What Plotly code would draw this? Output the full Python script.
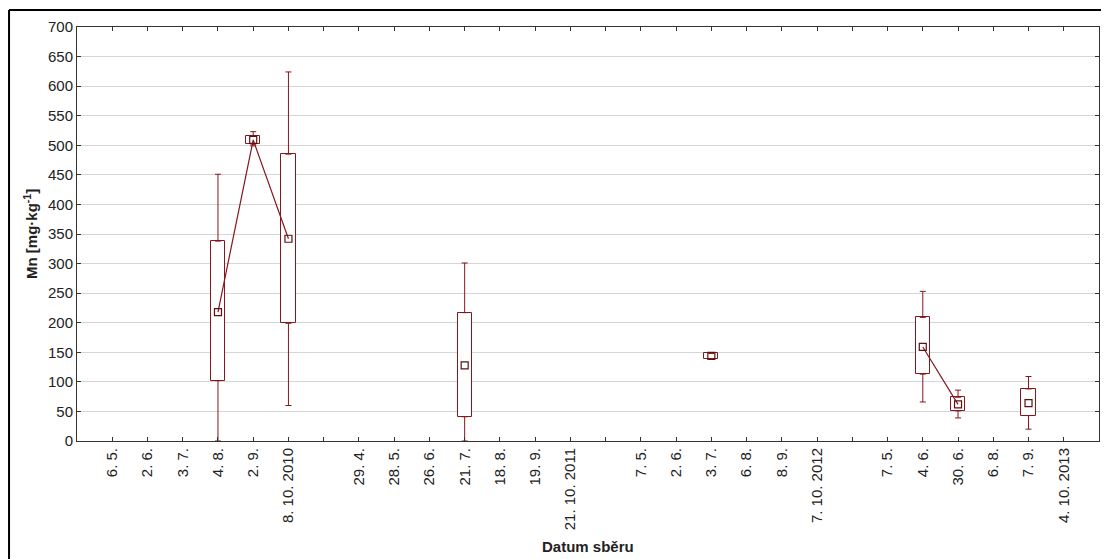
import plotly.graph_objects as go

# ---- data ----
tick_labels = ["6. 5.", "2. 6.", "3. 7.", "4. 8.", "2. 9.", "8. 10. 2010", "",
               "29. 4.", "28. 5.", "26. 6.", "21. 7.", "18. 8.", "19. 9.", "21. 10. 2011", "",
               "7. 5.", "2. 6.", "3. 7.", "6. 8.", "8. 9.", "7. 10. 2012", "",
               "7. 5.", "4. 6.", "30. 6.", "6. 8.", "7. 9.", "4. 10. 2013"]

box_pos = [3, 4, 5, 10, 17, 23, 24, 26]
mins    = [0, 499, 60, 0, 138, 66, 39, 20]
q1s     = [102, 502, 199, 41, 139, 113, 51, 43]
medians = [218, 509, 342, 128, 144, 159, 62, 64]
q3s     = [338, 515, 485, 217, 148, 209, 74, 88]
maxs    = [451, 523, 624, 301, 149, 253, 86, 109]

# medians connected within consecutive sampling dates
line_groups = [[3, 4, 5], [23, 24]]

RED = "#84181c"
FONT = "Arial, Liberation Sans, sans-serif"

fig = go.Figure()

# boxes (interquartile range)
fig.add_trace(go.Bar(
    x=box_pos, base=q1s, y=[b - a for a, b in zip(q1s, q3s)],
    width=0.4, marker=dict(color="white", line=dict(color=RED, width=1)),
    showlegend=False, hoverinfo="skip"))

# upper whiskers
fig.add_trace(go.Scatter(
    x=box_pos, y=q3s, mode="markers",
    marker=dict(size=1, color="rgba(0,0,0,0)"),
    error_y=dict(type="data", symmetric=False,
                 array=[mx - q for mx, q in zip(maxs, q3s)],
                 arrayminus=[0] * len(box_pos),
                 color=RED, thickness=1, width=3),
    showlegend=False, hoverinfo="skip"))

# lower whiskers
fig.add_trace(go.Scatter(
    x=box_pos, y=q1s, mode="markers",
    marker=dict(size=1, color="rgba(0,0,0,0)"),
    error_y=dict(type="data", symmetric=False,
                 array=[0] * len(box_pos),
                 arrayminus=[q - mn for mn, q in zip(mins, q1s)],
                 color=RED, thickness=1, width=3),
    showlegend=False, hoverinfo="skip"))

# connecting lines
lx, ly = [], []
for g in line_groups:
    for p in g:
        lx.append(p)
        ly.append(medians[box_pos.index(p)])
    lx.append(None)
    ly.append(None)
fig.add_trace(go.Scatter(x=lx, y=ly, mode="lines",
                         line=dict(color=RED, width=1.2),
                         showlegend=False, hoverinfo="skip"))

# median markers
fig.add_trace(go.Scatter(
    x=box_pos, y=medians, mode="markers",
    marker=dict(symbol="square-open", size=7, color="#5c1012", line=dict(width=1.2)),
    showlegend=False))

fig.update_layout(
    width=1101, height=551,
    margin=dict(l=69, r=10, t=19, b=118),
    paper_bgcolor="white", plot_bgcolor="white",
    font=dict(family=FONT, size=15, color="#222"),
    bargap=0,
    xaxis=dict(range=[-1, 28], tickmode="array",
               tickvals=list(range(len(tick_labels))), ticktext=tick_labels,
               tickangle=-90, ticks="inside", ticklen=4, tickcolor="#333",
               mirror="ticks", showline=True, linecolor="#333", linewidth=1,
               showgrid=False, zeroline=False, automargin=False,
               tickfont=dict(family=FONT, size=15, color="#222")),
    yaxis=dict(range=[0, 700], dtick=50, tick0=0,
               ticks="inside", ticklen=4, tickcolor="#333",
               mirror="ticks", showline=True, linecolor="#333", linewidth=1,
               showgrid=True, gridcolor="#d6d6d6", gridwidth=1, zeroline=False,
               automargin=False,
               tickfont=dict(family=FONT, size=15, color="#222")),
    annotations=[
        dict(text="<b>Datum sběru</b>", xref="paper", yref="paper",
             x=0.5, y=-0.256, xanchor="center", yanchor="middle",
             showarrow=False, font=dict(family=FONT, size=15, color="#222")),
        dict(text="<b>Mn [mg·kg<sup>-1</sup>]</b>", xref="paper", yref="paper",
             x=-0.046, y=0.5, xanchor="center", yanchor="middle", textangle=-90,
             showarrow=False, font=dict(family=FONT, size=15, color="#222")),
    ],
    shapes=[
        dict(type="line", xref="paper", yref="paper",
             x0=-0.0665, x1=1.04, y0=1.041, y1=1.041,
             line=dict(color="black", width=2)),
        dict(type="line", xref="paper", yref="paper",
             x0=-0.0665, x1=-0.0665, y0=1.041, y1=-0.3,
             line=dict(color="black", width=2)),
    ],
)

fig.write_html("out.html")
